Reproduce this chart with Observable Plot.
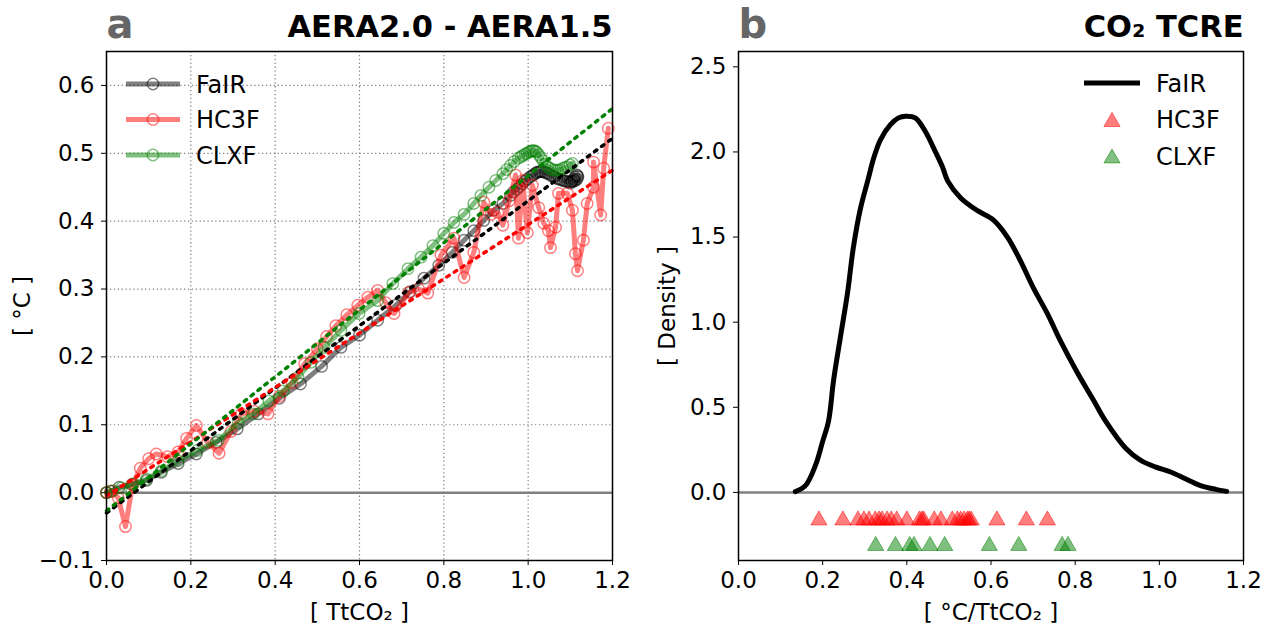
<!DOCTYPE html>
<html><head><meta charset="utf-8">
<script src="https://cdn.jsdelivr.net/npm/d3@7"></script>
<script src="https://cdn.jsdelivr.net/npm/@observablehq/plot@0.6"></script>
<style>
body{margin:0;background:#fff;font-family:"DejaVu Sans",sans-serif;}
#wrap{position:relative;width:1266px;height:631px;overflow:hidden;background:#fff}
.panel{position:absolute;top:0}
#leg{position:absolute;left:0;top:0;pointer-events:none}
</style></head><body><div id="wrap"></div>
<script>
// ---------------- Panel a data ----------------
const fairX = [0, 0.01, 0.03, 0.06, 0.095, 0.13, 0.17, 0.213, 0.26, 0.31, 0.36, 0.41, 0.46, 0.51, 0.556, 0.6, 0.643, 0.686, 0.72, 0.753, 0.788, 0.82, 0.848, 0.871, 0.895, 0.918, 0.94, 0.958, 0.965, 0.973, 0.98, 0.986, 0.992, 0.998, 1.004, 1.009, 1.014, 1.018, 1.022, 1.026, 1.03, 1.034, 1.039, 1.043, 1.048, 1.053, 1.058, 1.063, 1.068, 1.073, 1.078, 1.083, 1.088, 1.093, 1.098, 1.103, 1.108, 1.112, 1.116, 1.118, 1.117, 1.115, 1.111, 1.108, 1.104, 1.1];
const fairY = [0, 0.002, 0.008, 0.012, 0.018, 0.03, 0.043, 0.057, 0.074, 0.094, 0.116, 0.139, 0.16, 0.186, 0.214, 0.232, 0.254, 0.276, 0.296, 0.316, 0.335, 0.354, 0.372, 0.386, 0.401, 0.416, 0.426, 0.438, 0.443, 0.447, 0.451, 0.455, 0.459, 0.462, 0.465, 0.467, 0.469, 0.471, 0.472, 0.473, 0.473, 0.473, 0.472, 0.471, 0.47, 0.468, 0.466, 0.465, 0.463, 0.462, 0.461, 0.46, 0.459, 0.458, 0.458, 0.458, 0.459, 0.46, 0.462, 0.465, 0.467, 0.468, 0.465, 0.462, 0.459, 0.456];

const hc3fX = [0, 0.012, 0.028, 0.045, 0.062, 0.08, 0.1, 0.118, 0.145, 0.17, 0.19, 0.213, 0.24, 0.267, 0.295, 0.32, 0.35, 0.383, 0.41, 0.44, 0.47, 0.5, 0.522, 0.544, 0.57, 0.596, 0.62, 0.643, 0.662, 0.682, 0.717, 0.74, 0.762, 0.793, 0.824, 0.848, 0.871, 0.895, 0.912, 0.928, 0.94, 0.955, 0.97, 0.977, 0.987, 0.998, 1.01, 1.025, 1.037, 1.048, 1.053, 1.065, 1.072, 1.093, 1.105, 1.112, 1.117, 1.131, 1.14, 1.155, 1.155, 1.172, 1.179, 1.19];
const hc3fY = [0, 0.002, -0.008, -0.05, 0.012, 0.036, 0.05, 0.057, 0.053, 0.06, 0.08, 0.099, 0.074, 0.058, 0.09, 0.116, 0.12, 0.116, 0.142, 0.162, 0.19, 0.212, 0.23, 0.246, 0.262, 0.276, 0.288, 0.298, 0.28, 0.264, 0.295, 0.3, 0.294, 0.35, 0.375, 0.317, 0.354, 0.428, 0.41, 0.413, 0.394, 0.43, 0.468, 0.375, 0.46, 0.383, 0.453, 0.42, 0.397, 0.386, 0.361, 0.391, 0.441, 0.441, 0.416, 0.352, 0.327, 0.372, 0.426, 0.45, 0.487, 0.409, 0.478, 0.537];

const clxfX = [0, 0.015, 0.035, 0.064, 0.095, 0.13, 0.17, 0.215, 0.265, 0.312, 0.348, 0.385, 0.419, 0.454, 0.485, 0.516, 0.556, 0.599, 0.643, 0.679, 0.715, 0.746, 0.774, 0.8, 0.824, 0.848, 0.871, 0.888, 0.907, 0.923, 0.94, 0.949, 0.958, 0.967, 0.977, 0.983, 0.988, 0.993, 0.998, 1.002, 1.006, 1.01, 1.013, 1.017, 1.02, 1.025, 1.03, 1.035, 1.04, 1.046, 1.052, 1.058, 1.064, 1.07, 1.076, 1.082, 1.088, 1.093, 1.099, 1.105];
const clxfY = [0, 0.003, 0.007, 0.013, 0.02, 0.032, 0.047, 0.062, 0.077, 0.103, 0.116, 0.135, 0.15, 0.17, 0.192, 0.214, 0.239, 0.264, 0.283, 0.308, 0.33, 0.347, 0.364, 0.382, 0.398, 0.41, 0.426, 0.438, 0.45, 0.46, 0.47, 0.476, 0.482, 0.488, 0.493, 0.495, 0.497, 0.499, 0.5, 0.502, 0.503, 0.504, 0.504, 0.503, 0.502, 0.498, 0.494, 0.489, 0.484, 0.48, 0.478, 0.476, 0.475, 0.475, 0.476, 0.478, 0.479, 0.48, 0.483, 0.485];

// linear fits (dotted), endpoints
const fitX = [0, 1.2];
const fitFaIR = [-0.03, 0.522];
const fitHC3F = [-0.005, 0.475];
const fitCLXF = [-0.027, 0.566];

const xTicksA = [0, 0.2, 0.4, 0.6, 0.8, 1.0, 1.2];
const yTicksA = [-0.1, 0, 0.1, 0.2, 0.3, 0.4, 0.5, 0.6];
const zeroLine = [0];

// ---------------- Panel b data ----------------
const kdeX = [0.135, 0.159, 0.183, 0.2, 0.214, 0.226, 0.242, 0.259, 0.273, 0.29, 0.307, 0.322, 0.337, 0.361, 0.38, 0.397, 0.42, 0.444, 0.468, 0.485, 0.497, 0.528, 0.568, 0.606, 0.639, 0.67, 0.701, 0.734, 0.765, 0.806, 0.844, 0.872, 0.92, 0.955, 0.99, 1.027, 1.062, 1.098, 1.134, 1.16];
const kdeY = [0.005, 0.04, 0.16, 0.3, 0.42, 0.66, 0.91, 1.17, 1.44, 1.67, 1.83, 1.97, 2.07, 2.16, 2.2, 2.21, 2.2, 2.12, 2.0, 1.91, 1.83, 1.73, 1.655, 1.6, 1.5, 1.36, 1.2, 1.05, 0.89, 0.7, 0.54, 0.42, 0.26, 0.19, 0.15, 0.12, 0.08, 0.04, 0.018, 0.006];
const tcreHC3F = [0.191, 0.248, 0.284, 0.298, 0.31, 0.325, 0.334, 0.341, 0.353, 0.363, 0.376, 0.4, 0.43, 0.436, 0.44, 0.465, 0.481, 0.508, 0.52, 0.528, 0.536, 0.544, 0.548, 0.553, 0.614, 0.684, 0.734];
const tcreCLXF = [0.326, 0.373, 0.407, 0.417, 0.455, 0.49, 0.596, 0.666, 0.769, 0.783];
const rowHC3F = -0.15;
const rowCLXF = -0.3;
const xTicksB = [0, 0.2, 0.4, 0.6, 0.8, 1.0, 1.2];
const yTicksB = [0, 0.5, 1.0, 1.5, 2.0, 2.5];

const titleA = ["AERA2.0 - AERA1.5"], letterA = ["a"];
const titleB = ["CO₂ TCRE"], letterB = ["b"];

// ---------------- helpers ----------------
const pts = (xs, ys) => xs.map((x, i) => ({x, y: ys[i]}));
const fmt = d3.format(".1f");
const FONT = "DejaVu Sans";
const gridStyle = {stroke: "#808080", strokeOpacity: 1, strokeWidth: 1.2, strokeDasharray: "1.3,2.6"};

function series(data, color) {
  return [
    Plot.line(data, {x: "x", y: "y", stroke: color, strokeOpacity: 0.5, strokeWidth: 5, strokeLinejoin: "round"}),
    Plot.dot(data, {x: "x", y: "y", r: 5.7, fill: "none", stroke: color, strokeOpacity: 0.5, strokeWidth: 1.5})
  ];
}
function fit(ys, color) {
  return Plot.line(pts(fitX, ys), {x: "x", y: "y", stroke: color, strokeWidth: 3.5, strokeDasharray: "2.8,6"});
}
function titles(letter, title) {
  return [
    Plot.text(letter, {text: d => d, frameAnchor: "top-left", textAnchor: "start", lineAnchor: "bottom", dy: -14, dx: 0, fontSize: 40, fontWeight: "bold", fill: "#666666"}),
    Plot.text(title, {text: d => d, frameAnchor: "top-right", textAnchor: "end", lineAnchor: "bottom", dy: -15, fontSize: 30.5, fontWeight: "bold", fill: "black"})
  ];
}

const common = {
  width: 633, height: 631,
  marginTop: 51, marginBottom: 71,
  style: {fontFamily: FONT, fontSize: "23px", color: "black", background: "white", overflow: "visible"}
};

const pa = Plot.plot({
  ...common,
  marginLeft: 106, marginRight: 21,
  x: {domain: [0, 1.2], ticks: xTicksA, tickFormat: fmt, tickSize: 5, tickPadding: 6, label: "[ TtCO₂ ]", labelAnchor: "center", labelOffset: 59, labelArrow: "none"},
  y: {domain: [-0.1, 0.65], ticks: yTicksA, tickFormat: fmt, tickSize: 5, tickPadding: 7, label: "[ °C ]", labelAnchor: "center", labelOffset: 93, labelArrow: "none"},
  marks: [
    Plot.gridX(xTicksA, gridStyle),
    Plot.gridY(yTicksA, gridStyle),
    Plot.ruleY(zeroLine, {stroke: "gray", strokeWidth: 2.5}),
    ...series(pts(fairX, fairY), "black"),
    ...series(pts(hc3fX, hc3fY), "red"),
    ...series(pts(clxfX, clxfY), "green"),
    fit(fitFaIR, "black"),
    fit(fitHC3F, "red"),
    fit(fitCLXF, "green"),
    Plot.frame({stroke: "black", strokeWidth: 1.5}),
    ...titles(letterA, titleA)
  ]
});

const pb = Plot.plot({
  ...common,
  marginLeft: 105, marginRight: 23,
  x: {domain: [0, 1.2], ticks: xTicksB, tickFormat: fmt, tickSize: 5, tickPadding: 6, label: "[ °C/TtCO₂ ]", labelAnchor: "center", labelOffset: 59, labelArrow: "none"},
  y: {domain: [-0.4, 2.59], ticks: yTicksB, tickFormat: fmt, tickSize: 5, tickPadding: 7, label: "[ Density ]", labelAnchor: "center", labelOffset: 80, labelArrow: "none"},
  marks: [
    Plot.ruleY(zeroLine, {stroke: "gray", strokeWidth: 2.5}),
    Plot.line(pts(kdeX, kdeY), {x: "x", y: "y", stroke: "black", strokeWidth: 5, curve: "catmull-rom", strokeLinejoin: "round"}),
    Plot.dot(tcreHC3F, {x: d => d, y: () => rowHC3F, dy: 2.3, symbol: "triangle", r: 6, fill: "red", fillOpacity: 0.5, stroke: "red", strokeOpacity: 0.5, strokeWidth: 1}),
    Plot.dot(tcreCLXF, {x: d => d, y: () => rowCLXF, dy: 2.3, symbol: "triangle", r: 6, fill: "green", fillOpacity: 0.5, stroke: "green", strokeOpacity: 0.5, strokeWidth: 1}),
    Plot.frame({stroke: "black", strokeWidth: 1.5}),
    ...titles(letterB, titleB)
  ]
});

const wrap = document.getElementById("wrap");
pa.classList.add("panel"); pa.style.left = "0px";
pb.classList.add("panel"); pb.style.left = "633px";
wrap.appendChild(pa); wrap.appendChild(pb);

// ---------------- Legends (overlay) ----------------
const NS = "http://www.w3.org/2000/svg";
const leg = document.createElementNS(NS, "svg");
leg.setAttribute("id", "leg"); leg.setAttribute("width", 1266); leg.setAttribute("height", 631);
leg.style.fontFamily = FONT; leg.style.fontSize = "24px";
function el(tag, attrs, parent = leg) { const e = document.createElementNS(NS, tag); for (const k in attrs) e.setAttribute(k, attrs[k]); parent.appendChild(e); return e; }
const legA = [{name: "FaIR", color: "black"}, {name: "HC3F", color: "red"}, {name: "CLXF", color: "green"}];
legA.forEach((s, i) => {
  const y = 84 + i * 35.5;
  el("line", {x1: 126, x2: 180, y1: y, y2: y, stroke: s.color, "stroke-opacity": 0.5, "stroke-width": 5});
  el("circle", {cx: 153, cy: y, r: 5.7, fill: "none", stroke: s.color, "stroke-opacity": 0.5, "stroke-width": 1.5});
  const t = el("text", {x: 196, y: y + 8.5}); t.textContent = s.name;
});
const legB = [{name: "FaIR", color: "black", kind: "line"}, {name: "HC3F", color: "red", kind: "tri"}, {name: "CLXF", color: "green", kind: "tri"}];
legB.forEach((s, i) => {
  const y = 83 + i * 36.5;
  if (s.kind === "line") el("line", {x1: 1084, x2: 1140, y1: y, y2: y, stroke: s.color, "stroke-width": 5});
  else el("path", {d: d3.symbol(d3.symbolTriangle, Math.PI * 36)(), transform: `translate(1112,${y + 2.3})`, fill: s.color, "fill-opacity": 0.5, stroke: s.color, "stroke-opacity": 0.5});
  const t = el("text", {x: 1156, y: y + 8.5}); t.textContent = s.name;
});
wrap.appendChild(leg);
</script></body></html>
